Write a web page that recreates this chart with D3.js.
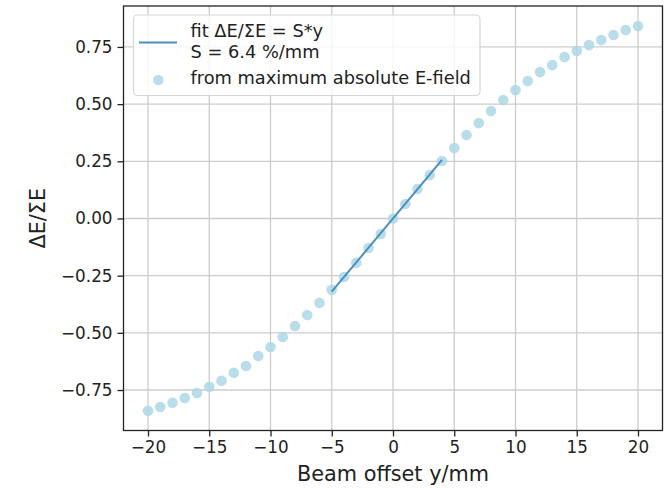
<!DOCTYPE html>
<html>
<head>
<meta charset="utf-8">
<script src="https://cdn.jsdelivr.net/npm/d3@7"></script>
<style>
  body { margin: 0; background: #fff; }
  svg { font-family: "DejaVu Sans", sans-serif; }
</style>
</head>
<body>
<svg id="chart" width="667" height="488"></svg>
<script>
// beam offset in mm and measured ΔE/ΣE
const offsets = [-20,-19,-18,-17,-16,-15,-14,-13,-12,-11,-10,-9,-8,-7,-6,-5,-4,-3,-2,-1,0,
                 1,2,3,4,5,6,7,8,9,10,11,12,13,14,15,16,17,18,19,20];
const ratios = [-0.841,-0.824,-0.806,-0.785,-0.763,-0.736,-0.710,-0.675,-0.645,-0.601,-0.562,
                -0.518,-0.470,-0.422,-0.369,-0.312,-0.256,-0.194,-0.129,-0.068,0.0,
                0.063,0.129,0.190,0.251,0.308,0.365,0.417,0.470,0.518,0.562,0.601,0.640,
                0.671,0.706,0.732,0.758,0.780,0.802,0.824,0.841];

// linear fit endpoints
const fitX = [-5, 4];
const fitY = [-0.32, 0.256];

const xTicks = [-20, -15, -10, -5, 0, 5, 10, 15, 20];
const yTicks = [-0.75, -0.5, -0.25, 0, 0.25, 0.5, 0.75];

const m = { left: 123.5, right: 662.5, top: 6, bottom: 430.5 };

const svg = d3.select("#chart");

const x = d3.scaleLinear().domain([-22, 22]).range([m.left, m.right]);
const y = d3.scaleLinear().domain([-0.927, 0.929]).range([m.bottom, m.top]);

// grid
svg.append("g")
    .selectAll("line")
    .data(xTicks)
    .join("line")
    .attr("x1", d => x(d)).attr("x2", d => x(d))
    .attr("y1", m.top).attr("y2", m.bottom)
    .attr("stroke", "#cccccc").attr("stroke-width", 1.3);

svg.append("g")
    .selectAll("line")
    .data(yTicks)
    .join("line")
    .attr("x1", m.left).attr("x2", m.right)
    .attr("y1", d => y(d)).attr("y2", d => y(d))
    .attr("stroke", "#cccccc").attr("stroke-width", 1.3);

// scatter points
svg.append("g")
    .selectAll("circle")
    .data(offsets)
    .join("circle")
    .attr("cx", d => x(d))
    .attr("cy", (d, i) => y(ratios[i]))
    .attr("r", 5.3)
    .attr("fill", "lightblue")
    .attr("fill-opacity", 0.85);

// fit line
svg.append("path")
    .datum(fitX.map((d, i) => [d, fitY[i]]))
    .attr("d", d3.line().x(d => x(d[0])).y(d => y(d[1])))
    .attr("fill", "none")
    .attr("stroke", "#4a8fc0")
    .attr("stroke-width", 2);

// axes
const xAxis = svg.append("g")
    .attr("transform", `translate(0,${m.bottom})`)
    .call(d3.axisBottom(x).tickValues(xTicks).tickSize(6).tickPadding(5)
        .tickFormat(d => d3.format("d")(d).replace("-", "\u2212")));

const yAxis = svg.append("g")
    .attr("transform", `translate(${m.left},0)`)
    .call(d3.axisLeft(y).tickValues(yTicks).tickSize(6).tickPadding(5)
        .tickFormat(d => d3.format(".2f")(d).replace("-", "\u2212")));

[xAxis, yAxis].forEach(a => {
    a.select(".domain").remove();
    a.selectAll(".tick line").attr("stroke", "#222").attr("stroke-width", 1.3);
    a.selectAll(".tick text").attr("fill", "#222").style("font-size", "16.8px")
        .style("font-family", "DejaVu Sans");
});

// frame
svg.append("rect")
    .attr("x", m.left).attr("y", m.top)
    .attr("width", m.right - m.left).attr("height", m.bottom - m.top)
    .attr("fill", "none").attr("stroke", "#222").attr("stroke-width", 1.3);

// axis labels
svg.append("text")
    .attr("x", (m.left + m.right) / 2).attr("y", 481)
    .attr("text-anchor", "middle")
    .style("font-size", "20.8px").attr("fill", "#222")
    .text("Beam offset y/mm");

svg.append("text")
    .attr("transform", `translate(45,${(m.top + m.bottom) / 2}) rotate(-90)`)
    .attr("text-anchor", "middle")
    .style("font-size", "20.8px").attr("fill", "#222")
    .text("ΔE/ΣE");

// legend
const legend = svg.append("g");
legend.append("rect")
    .attr("x", 133.5).attr("y", 15).attr("width", 346.5).attr("height", 80.5)
    .attr("rx", 4).attr("fill", "#fff").attr("fill-opacity", 0.8)
    .attr("stroke", "#d6d6d6").attr("stroke-width", 1.2);

legend.append("line")
    .attr("x1", 139).attr("x2", 177).attr("y1", 42.5).attr("y2", 42.5)
    .attr("stroke", "#4a8fc0").attr("stroke-width", 2);

legend.append("circle")
    .attr("cx", 158.3).attr("cy", 80).attr("r", 5.3)
    .attr("fill", "lightblue").attr("fill-opacity", 0.85);

const legendLines = [["fit ΔE/ΣE = S*y", 37], ["S = 6.4 %/mm", 57.5], ["from maximum absolute E-field", 84]];
legend.selectAll("text")
    .data(legendLines)
    .join("text")
    .attr("x", 190.5).attr("y", d => d[1])
    .style("font-size", "17.8px").attr("fill", "#222")
    .text(d => d[0]);
</script>
</body>
</html>
